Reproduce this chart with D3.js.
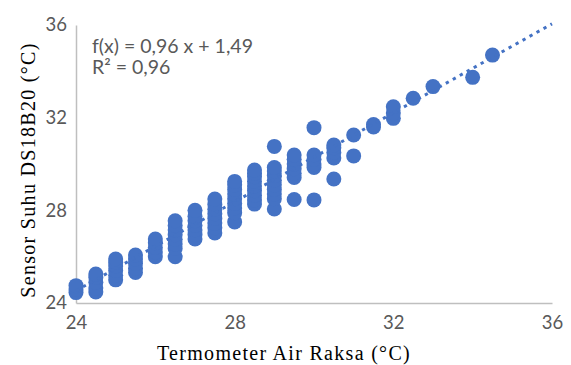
<!DOCTYPE html>
<html><head><meta charset="utf-8">
<script src="https://cdn.jsdelivr.net/npm/d3@7"></script>
<style>
html,body{margin:0;padding:0;background:#fff;}
svg{display:block;}
</style></head>
<body>
<svg id="chart" width="571" height="365"></svg>
<script>
// Data: each column of x (°C) with its measured y values
const xColumns = [24, 24.5, 25, 25.5, 26, 26.5, 27, 27.5, 28, 28.5, 29, 29.5, 30, 30.5, 31, 31.5, 32, 32.5, 33, 34, 34.5];
const yColumns = [
  [24.45, 24.6, 24.75],
  [24.48, 24.65, 24.9, 25.1, 25.25],
  [25.0, 25.2, 25.4, 25.6, 25.75, 25.9],
  [25.32, 25.5, 25.7, 25.9, 26.07],
  [26.0, 26.2, 26.4, 26.6, 26.76],
  [26.0, 26.35, 26.55, 26.75, 26.95, 27.15, 27.35, 27.55],
  [26.76, 26.95, 27.15, 27.35, 27.55, 27.75, 28.0],
  [27.02, 27.25, 27.45, 27.65, 27.85, 28.05, 28.25, 28.49],
  [27.5, 27.9, 28.1, 28.3, 28.5, 28.7, 28.9, 29.1, 29.25],
  [28.27, 28.45, 28.65, 28.85, 29.05, 29.25, 29.45, 29.6, 29.74],
  [28.06, 28.5, 28.7, 28.9, 29.1, 29.3, 29.5, 29.7, 29.85, 30.76],
  [28.47, 29.42, 29.6, 29.8, 30.0, 30.2, 30.39],
  [28.45, 29.85, 30.0, 30.2, 30.39, 31.57],
  [29.35, 30.26, 30.5, 30.7, 30.82],
  [30.35, 31.25],
  [31.6, 31.7],
  [31.97, 32.2, 32.47],
  [32.84],
  [33.34],
  [33.74],
  [34.7]
];
const xTicks = [24, 28, 32, 36];
const yTicks = [24, 28, 32, 36];
const slope = 0.96, intercept = 1.49;
const equationLines = ["f(x) = 0,96 x + 1,49", "R² = 0,96"];
const xTitle = "Termometer Air Raksa (°C)";
const yTitle = "Sensor Suhu DS18B20 (°C)";

const points = [];
xColumns.forEach((xv, i) => yColumns[i].forEach(yv => points.push({x: xv, y: yv})));

const svg = d3.select("#chart");
const mLeft = 76, mRight = 552, mTop = 25, mBottom = 303;
const x = d3.scaleLinear().domain([24, 36]).range([mLeft, mRight]);
const y = d3.scaleLinear().domain([24, 36]).range([mBottom, mTop]);
const blue = "#4472C4";
const grey = "#595959";

// axes
const xAxis = svg.append("g").attr("transform", `translate(0,${mBottom})`)
  .call(d3.axisBottom(x).tickValues(xTicks).tickSize(0).tickPadding(13).tickFormat(d3.format("d")));
xAxis.select(".domain").attr("stroke", "#bfbfbf").attr("stroke-width", 1.5);
xAxis.selectAll("text").attr("fill", grey).style("font-family", "Lato, sans-serif").style("font-size", "18.5px");

const yAxis = svg.append("g").attr("transform", `translate(${mLeft},0)`)
  .call(d3.axisLeft(y).tickValues(yTicks).tickSize(0).tickPadding(9).tickFormat(d3.format("d")));
yAxis.select(".domain").attr("stroke", "#bfbfbf").attr("stroke-width", 1.5);
yAxis.selectAll("text").attr("fill", grey).style("font-family", "Lato, sans-serif").style("font-size", "18.5px");

// points
svg.append("g").selectAll("circle").data(points).join("circle")
  .attr("cx", d => x(d.x)).attr("cy", d => y(d.y)).attr("r", 7.5)
  .attr("fill", blue);

// trendline
const tl = [24, 36].map(v => ({x: v, y: slope * v + intercept}));
svg.append("path")
  .attr("d", d3.line().x(d => x(d.x)).y(d => y(d.y))(tl))
  .attr("fill", "none").attr("stroke", blue).attr("stroke-width", 3)
  .attr("stroke-dasharray", "3.3,4.7");

// equation
const eq = svg.append("text").attr("x", 92).attr("y", 53)
  .attr("fill", grey).style("font-family", "Lato, sans-serif").style("font-size", "19.5px");
equationLines.forEach((t, i) => eq.append("tspan").attr("x", 92).attr("y", 53 + i * 21).text(t));

// axis titles
svg.append("text").attr("x", 284).attr("y", 360).attr("text-anchor", "middle")
  .style("font-family", "'Liberation Serif', 'Times New Roman', serif").style("font-size", "20px")
  .style("letter-spacing", "1.3px")
  .attr("fill", "#000").text(xTitle);
svg.append("text").attr("transform", "translate(35,170) rotate(-90)").attr("text-anchor", "middle")
  .style("font-family", "'Liberation Serif', 'Times New Roman', serif").style("font-size", "20px")
  .style("letter-spacing", "1.3px")
  .attr("fill", "#000").text(yTitle);
</script>
</body></html>
